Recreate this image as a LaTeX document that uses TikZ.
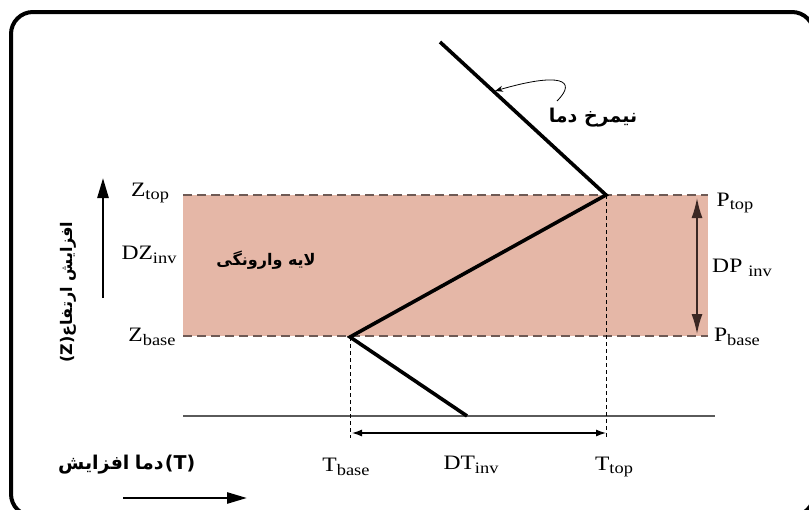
\documentclass[tikz,border=0pt]{standalone}
\usepackage{fontspec}
\setmainfont{Liberation Serif}[FakeStretch=1.15]
\newfontfamily\fafont[Script=Arabic]{DejaVu Sans}
\TeXXeTstate=1
\usetikzlibrary{arrows.meta,positioning}
\definecolor{LayerFill}{HTML}{E5B7A7}
\definecolor{LayerDash}{HTML}{6E5A55}
\definecolor{ArrowBrown}{HTML}{3B2723}
\definecolor{AxisGray}{HTML}{5A5A5A}
\newcommand{\lowlbl}[2]{#1\raisebox{-0.35ex}{\fontsize{16}{17}\selectfont #2}}

\begin{document}
\begin{tikzpicture}[x=1pt,y=-1pt,
  lbl/.style={font=\fontsize{20.5}{23}\selectfont,inner sep=0pt},
  fa/.style={font=\fafont\bfseries\fontsize{16}{19}\selectfont,inner sep=0pt},
  profile/.style={line width=3.6pt,line join=miter},
  guide/.style={dash pattern=on 4pt off 3pt,line width=0.9pt},
  limit/.style={draw=LayerDash,dash pattern=on 9pt off 5pt,line width=1.3pt},
  dimarrow/.style={{Latex[length=10pt,width=7pt]}-{Latex[length=10pt,width=7pt]},line width=1.2pt},
  axisarrow/.style={-{Triangle[length=20pt,width=11pt]},line width=2.6pt}
]
  \useasboundingbox (0,0) rectangle (809,509);
  % frame
  \draw[line width=4pt,rounded corners=22pt] (11,12) rectangle (814,516);

  % inversion layer
  \coordinate (layertl) at (183,195);
  \coordinate (layertr) at (708,195);
  \coordinate (layerbl) at (183,336);
  \coordinate (layerbr) at (708,336);
  \fill[LayerFill] (layertl) rectangle (layerbr);
  \draw[limit] (layertl) -- (layertr);
  \draw[limit] (layerbl) -- (layerbr);

  % temperature profile
  \coordinate (pstart) at (440,42);
  \coordinate (ptop) at (606,195);
  \coordinate (pbase) at (350,337);
  \coordinate (pend) at (467,416);
  \coordinate (gridl) at (183,416);
  \coordinate (gridr) at (715,416);
  \draw[AxisGray,line width=1.3pt] (gridl) -- (gridr);
  \draw[profile] (pstart) -- (ptop) -- (pbase) -- (pend);

  % guides and dimensions
  \coordinate (tbasefoot) at (350,438);
  \coordinate (ttopfoot) at (606,438);
  \draw[guide] (pbase) -- (tbasefoot);
  \draw[guide] (ptop) -- (ttopfoot);
  \coordinate (dtl) at (352,433);
  \coordinate (dtr) at (606,433);
  \draw[dimarrow] (dtl) -- (dtr);
  \coordinate (dpt) at (697,198);
  \coordinate (dpb) at (697,334);
  \draw[dimarrow,ArrowBrown,line width=1.6pt,{Latex[length=20pt,width=11pt]}-{Latex[length=20pt,width=11pt]}] (dpt) -- (dpb);

  % axes
  \coordinate (zfoot) at (103,298);
  \coordinate (ztip) at (103,178);
  \draw[axisarrow] (zfoot) -- (ztip);
  \coordinate (tfoot) at (123,498);
  \coordinate (ttip) at (247,498);
  \draw[axisarrow] (tfoot) -- (ttip);

  % labels
  \node[lbl] (ztop) at (150,193) {\lowlbl{Z}{top}};
  \node[lbl] (zinv) at (149,255) {\lowlbl{DZ}{inv}};
  \node[lbl] (zbase) at (152,337) {\lowlbl{Z}{base}};
  \node[lbl] (ptoplbl) at (735,203) {\lowlbl{P}{top}};
  \node[lbl] (pinv) at (742,268) {\lowlbl{DP\ }{inv}};
  \node[lbl] (pbaselbl) at (737,337) {\lowlbl{P}{base}};
  \node[lbl] (tbase) at (346,467) {\lowlbl{T}{base}};
  \node[lbl] (tinv) at (471,465) {\lowlbl{DT}{inv}};
  \node[lbl] (ttop) at (614,467) {\lowlbl{T}{top}};

  \node[fa] (layer) at (266,260) {\beginR لایه وارونگی\endR};
  \node[fa,font=\fafont\bfseries\fontsize{19}{22}\selectfont] (profilelbl) at (593,118) {\beginR نیمرخ دما\endR};
  \node[fa,rotate=90] (zlabel) at (68,292) {(Z)\beginR افزایش ارتفاع\endR};
  \node[fa,font=\fafont\bfseries\fontsize{19}{22}\selectfont,anchor=base west] (tword) at (58,469) {افزایش};
  \node[fa,font=\fafont\bfseries\fontsize{19}{22}\selectfont,base right=5pt of tword] (tdama) {دما};
  \node[fa,font=\fafont\bfseries\fontsize{19}{22}\selectfont,base right=1pt of tdama] (tvar) {(T)};

  \coordinate (curvefoot) at (557,101);
  \coordinate (curvetip) at (495,91);
  \draw[-{Stealth[length=8pt,width=6pt]},line width=0.8pt] (curvefoot) .. controls (578,80) and (560,72) .. (curvetip);
\end{tikzpicture}
\end{document}
